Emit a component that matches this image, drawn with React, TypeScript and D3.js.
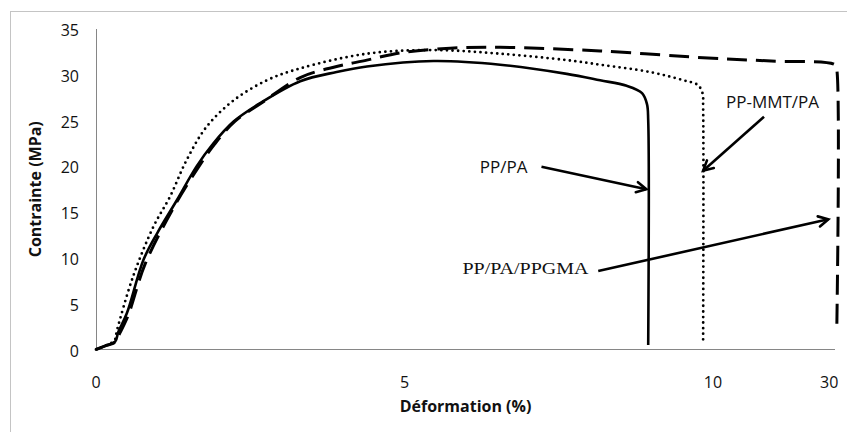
import React from 'react';
import * as d3 from 'd3';

// stress-strain curves (strain in %, stress in MPa)
const strainPPPA = [0, 0.15, 0.31, 0.36, 0.5, 0.77, 1.0, 1.31, 1.63, 1.9, 2.23, 2.66, 3.31, 3.9, 4.39, 5.47, 6.55, 7.63, 8.17, 8.6, 8.85, 8.93, 8.95, 8.95];
const stressPPPA = [0, 0.4, 0.85, 1.9, 3.95, 9.8, 12.8, 16.3, 20.0, 22.5, 24.9, 26.9, 29.3, 30.3, 30.9, 31.5, 31.1, 30.1, 29.4, 28.8, 28.0, 26.8, 25.0, 0.5];

const strainMMT = [0, 0.15, 0.3, 0.34, 0.6, 0.93, 1.2, 1.47, 1.79, 2.23, 2.77, 3.31, 4.39, 5.47, 6.55, 7.63, 8.17, 8.98, 9.52, 9.75, 9.83, 9.84, 9.84];
const stressMMT = [0, 0.4, 1.0, 2.1, 7.95, 13.4, 16.7, 20.7, 24.3, 27.2, 29.4, 30.7, 32.3, 32.7, 32.3, 31.6, 31.1, 30.3, 29.4, 28.9, 28.0, 26.5, 1.1];

const strainGMA = [0, 0.15, 0.31, 0.38, 0.52, 0.8, 1.3, 1.65, 1.92, 2.25, 2.7, 3.31, 3.9, 4.39, 4.93, 5.74, 6.55, 8.17, 10, 20, 31, 31.3, 31.3];
const stressGMA = [0, 0.4, 0.8, 1.7, 3.7, 9.4, 16.0, 19.8, 22.4, 24.9, 27.0, 29.7, 30.9, 31.6, 32.4, 32.9, 33.0, 32.6, 31.8, 31.5, 31.1, 30.6, 1.9];

const yTicks = [0, 5, 10, 15, 20, 25, 30, 35];
const xTicks = [0, 5, 10, 30];

// annotations: label position and arrow (tail -> tip), in data units
const notes = [
  { label: 'PP/PA', serif: false, tx: 6.22, ty: 19.27, x1: 7.22, y1: 19.96, x2: 8.92, y2: 17.5 },
  { label: 'PP-MMT/PA', serif: false, tx: 12.24, ty: 26.37, x1: 18.78, y1: 25.42, x2: 9.84, y2: 19.53 },
  { label: 'PP/PA/PPGMA', serif: true, tx: 5.94, ty: 8.24, x1: 8.14, y1: 8.57, x2: 29.85, y2: 14.22 },
];

const W = 847;
const H = 432;
const sans = '"Open Sans", sans-serif';

export default function App() {
  // broken x axis: 0-10 linear, 10-30 squeezed at the end
  const x = d3.scaleLinear().domain([0, 10, 31]).range([96, 713, 835]);
  const y = d3.scaleLinear().domain([0, 35]).range([349.5, 29]);

  const line = d3
    .line<[number, number]>()
    .x((d) => x(d[0]))
    .y((d) => y(d[1]))
    .curve(d3.curveCatmullRom.alpha(0.5));

  const zip = (a: number[], b: number[]) => a.map((v, i) => [v, b[i]] as [number, number]);

  const arrowHead = (n: typeof notes[0]) => {
    const px1 = x(n.x1), py1 = y(n.y1), px2 = x(n.x2), py2 = y(n.y2);
    const ang = Math.atan2(py2 - py1, px2 - px1);
    const len = 11;
    const spread = (28 * Math.PI) / 180;
    const a1 = ang + Math.PI - spread;
    const a2 = ang + Math.PI + spread;
    return `M${px2 + len * Math.cos(a1)},${py2 + len * Math.sin(a1)}L${px2},${py2}L${px2 + len * Math.cos(a2)},${py2 + len * Math.sin(a2)}`;
  };

  return (
    <div style={{ position: 'absolute', left: 0, top: 0 }}>
      <svg width={W} height={H} style={{ display: 'block', background: '#fff' }}>
        <rect x={10.5} y={11.5} width={1000} height={600} fill="none" stroke="#c4c4c4" />

        {/* axes */}
        <line x1={96.5} x2={96.5} y1={y(35)} y2={y(0)} stroke="#868686" />
        <line x1={96} x2={835} y1={y(0)} y2={y(0)} stroke="#868686" />

        {yTicks.map((t) => (
          <text key={t} x={79} y={y(t) + 7} textAnchor="end" fontFamily={sans} fontSize={16} fill="#111">
            {t}
          </text>
        ))}
        {xTicks.map((t) => (
          <text key={t} x={x(t)} y={387.5} textAnchor="middle" fontFamily={sans} fontSize={16} fill="#111">
            {t}
          </text>
        ))}

        <text x={465.5} y={412} textAnchor="middle" fontFamily={sans} fontWeight="bold" fontSize={16} fill="#111">
          Déformation (%)
        </text>
        <text
          transform={`translate(40.5, ${(y(0) + y(35)) / 2}) rotate(-90)`}
          textAnchor="middle"
          fontFamily={sans}
          fontWeight="bold"
          fontSize={16}
          fill="#111"
        >
          Contrainte (MPa)
        </text>

        {/* curves */}
        <path d={line(zip(strainGMA, stressGMA)) || ''} fill="none" stroke="#000" strokeWidth={3} strokeDasharray="20 9" />
        <path
          d={line(zip(strainMMT, stressMMT)) || ''}
          fill="none"
          stroke="#000"
          strokeWidth={2.8}
          strokeDasharray="0 5.6"
          strokeLinecap="round"
        />
        <path d={line(zip(strainPPPA, stressPPPA)) || ''} fill="none" stroke="#000" strokeWidth={2.6} />

        {/* labels + arrows */}
        {notes.map((n) => (
          <g key={n.label}>
            <text
              x={x(n.tx)}
              y={y(n.ty)}
              fontFamily={n.serif ? '"Liberation Serif", "Times New Roman", serif' : sans}
              fontSize={n.serif ? 17 : 17}
              textLength={n.serif ? 126 : undefined}
              lengthAdjust={n.serif ? 'spacingAndGlyphs' : undefined}
              fill="#111"
            >
              {n.label}
            </text>
            <line x1={x(n.x1)} y1={y(n.y1)} x2={x(n.x2)} y2={y(n.y2)} stroke="#000" strokeWidth={2.6} />
            <path d={arrowHead(n)} fill="none" stroke="#000" strokeWidth={2.6} strokeLinecap="round" strokeLinejoin="miter" />
          </g>
        ))}
      </svg>
    </div>
  );
}
